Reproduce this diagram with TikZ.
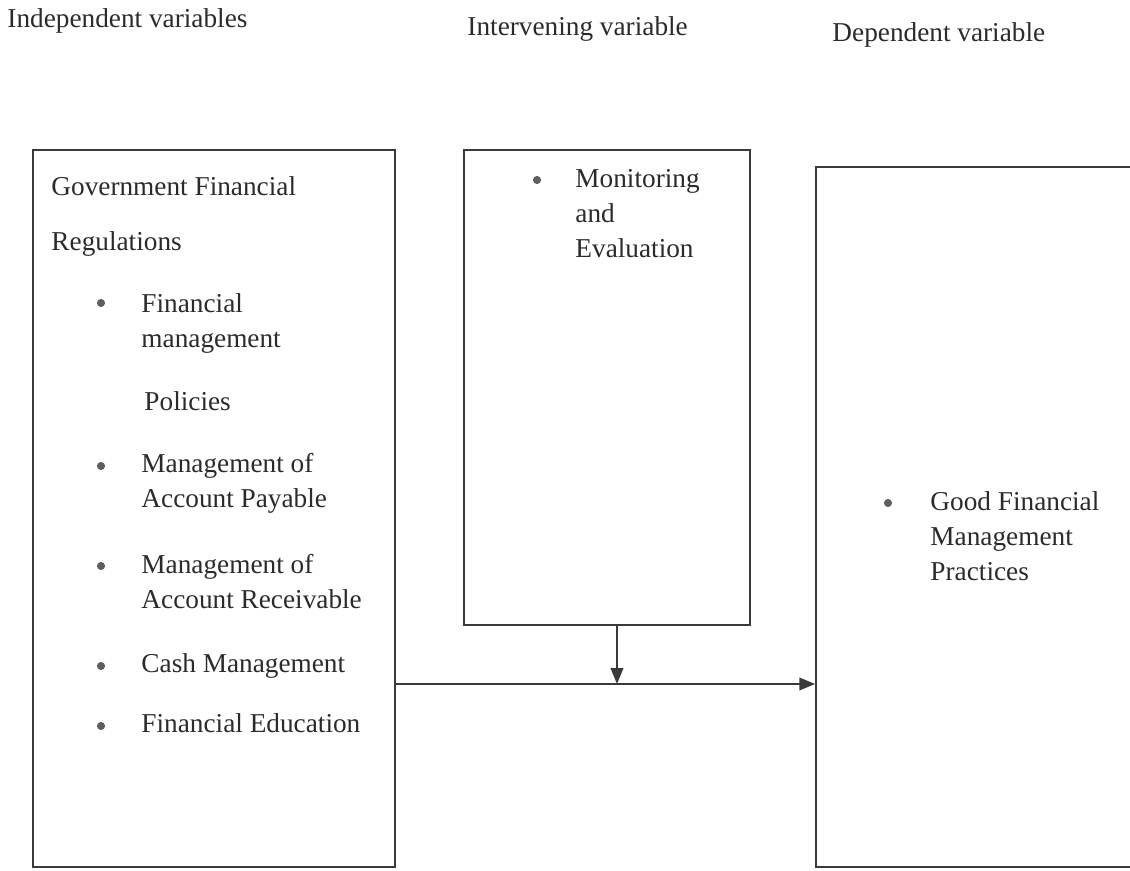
\documentclass[tikz,border=0pt]{standalone}
\usepackage{fontspec}
\setmainfont{Liberation Serif}
\usetikzlibrary{arrows.meta, positioning, fit}
\definecolor{ink}{HTML}{2B2B2B}
\definecolor{rule}{HTML}{3A3A3A}
\tikzstyle{frame} = [rectangle, draw=rule, line width=0.7pt, inner sep=0pt]
\tikzstyle{heading} = [anchor=base west, inner sep=0pt, text=ink, font=\fontsize{12}{14}\selectfont]
% base of a multi-line entry sits on its last line
\tikzstyle{entry} = [anchor=base west, inner sep=0pt, align=left, text=ink, font=\fontsize{12}{15.4}\selectfont]
\tikzstyle{bulletdot} = [circle, fill=gray!75!black, inner sep=0pt, minimum size=3.6pt]
\tikzstyle{arrow} = [line width=0.9pt, draw=rule, -{Triangle[length=7pt, width=5.5pt]}]

\begin{document}
\begin{tikzpicture}[x=0.44pt, y=-0.44pt]
			\clip (0,0) rectangle (1130,871);
			\fill[white] (0,0) rectangle (1130,871);
			% Headings
			\node (indephead) [heading] at (7,27) {Independent variables};
			\node (intervhead) [heading] at (467,35) {Intervening variable};
			\node (dephead) [heading] at (832,42) {Dependent variable};
			% Boxes
			\node (indep) [frame, fit={(33,150) (395,867)}] {};
			\node (interv) [frame, fit={(464,150) (750,625)}] {};
			\node (dep) [frame, fit={(816,167) (1145,867)}] {};
			% Independent variables
			\node (govA) [entry] at (51,196) {Government Financial};
			\node (govB) [entry] at (51,250) {Regulations};
			\node (policy) [entry] at (141,347) {Financial\\management};
			\node (policyB) [entry] at (144,410) {Policies};
			\node (payable) [entry] at (141,507) {Management of\\Account Payable};
			\node (receivable) [entry] at (141,608) {Management of\\Account Receivable};
			\node (cash) [entry] at (141,672) {Cash Management};
			\node (education) [entry] at (141,732) {Financial Education};
			% Intervening variable
			\node (monitor) [entry] at (575,257) {Monitoring\\and\\Evaluation};
			% Dependent variable
			\node (practice) [entry] at (930,580) {Good Financial\\Management\\Practices};
			% Bullets
			\foreach \bx/\by [count=\i] in {101/303, 101/466, 101/566, 101/666, 101/726, 537/180, 888/503}
				\node (bullet\i) [bulletdot] at (\bx,\by) {};
			% Arrows
			\coordinate (junction) at (617,684);
			\draw [arrow] (indep.east |- junction) -- (dep.west |- junction);
			\draw [arrow] (interv.south -| junction) -- (junction);
		\end{tikzpicture}
\end{document}
